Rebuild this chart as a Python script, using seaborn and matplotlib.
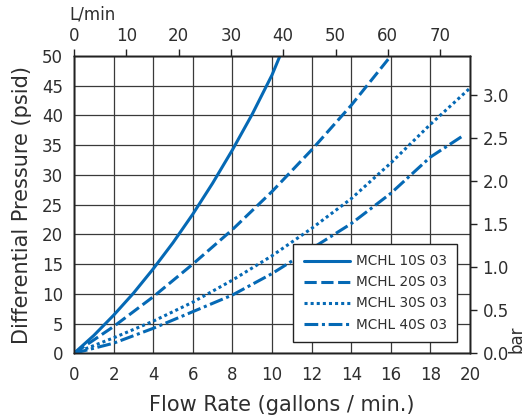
import numpy as np
import matplotlib
matplotlib.use("Agg")
import matplotlib.pyplot as plt
import pandas as pd
import seaborn as sns

# przeplyw (gpm) i spadek cisnienia (psid)
gpm_10s = [0, 1, 2, 3, 4, 5, 6, 7, 8, 9, 10, 10.4]
psi_10s = [0, 3.0, 6.4, 10.1, 14.2, 18.6, 23.4, 28.6, 34.2, 40.2, 46.8, 50.0]

gpm_20s = [0, 2, 4, 6, 8, 10, 12, 14, 16]
psi_20s = [0, 4.5, 9.5, 15.0, 20.8, 27.2, 34.2, 41.7, 50.0]

gpm_30s = [0, 2, 4, 6, 8, 10, 12, 14, 16, 18, 20]
psi_30s = [0, 2.6, 5.4, 8.6, 12.3, 16.4, 21.0, 26.0, 32.0, 38.5, 44.6]

gpm_40s = [0, 2, 4, 6, 8, 10, 12, 14, 16, 18, 19.7]
psi_40s = [0, 1.7, 4.2, 7.0, 9.8, 13.4, 17.6, 21.8, 26.9, 33.0, 36.7]

names = ["MCHL 10S 03", "MCHL 20S 03", "MCHL 30S 03", "MCHL 40S 03"]

x_ticks = list(range(0, 21, 2))
y_ticks = list(range(0, 51, 5))
lmin_ticks = list(range(0, 71, 10))
bar_ticks = [0.0, 0.5, 1.0, 1.5, 2.0, 2.5, 3.0]

GPM_TO_LMIN = 3.785411784
PSI_TO_BAR = 1 / 14.5038

df = pd.concat([
    pd.DataFrame({"gpm": gpm_10s, "psi": psi_10s, "model": names[0]}),
    pd.DataFrame({"gpm": gpm_20s, "psi": psi_20s, "model": names[1]}),
    pd.DataFrame({"gpm": gpm_30s, "psi": psi_30s, "model": names[2]}),
    pd.DataFrame({"gpm": gpm_40s, "psi": psi_40s, "model": names[3]}),
], ignore_index=True)

sns.set_theme(style="white")
plt.rcParams["font.family"] = ["DejaVu Sans"]
txt = "#2e2e2e"
blue = "#0569b5"
edge = "#222222"

fig = plt.figure(figsize=(5.26, 4.2), dpi=100)
ax = fig.add_axes([0.1407, 0.1588, 0.8935 - 0.1407, 0.8667 - 0.1588])

dashes = {names[0]: "", names[1]: (4, 1.5), names[2]: (1, 1.0), names[3]: (4.5, 1.2, 1, 1.2)}
sns.lineplot(data=df, x="gpm", y="psi", hue="model", style="model",
             palette=[blue] * 4, dashes=dashes, estimator=None, sort=False,
             linewidth=2.2, legend=False, ax=ax, zorder=3)

ax.set_xlim(0, 20)
ax.set_ylim(0, 50)
ax.set_xticks(x_ticks)
ax.set_yticks(y_ticks)
ax.grid(True, color="#3a3a3a", linewidth=0.9)
ax.set_axisbelow(True)
ax.tick_params(axis="both", length=0, labelsize=12, labelcolor=txt)
ax.tick_params(axis="x", pad=9)
ax.tick_params(axis="y", pad=8)
ax.set_xlabel("Flow Rate (gallons / min.)", fontsize=15, color=txt, labelpad=8)
ax.xaxis.label.set_x(0.525)
ax.set_ylabel("Differential Pressure (psid)", fontsize=15, color=txt, labelpad=7)
for s in ax.spines.values():
    s.set_color(edge)
    s.set_linewidth(1.0)

leg = ax.legend(ax.lines[:4], names, loc="lower right", bbox_to_anchor=(0.968, 0.039),
                fontsize=9.8, frameon=True, fancybox=False, framealpha=1,
                edgecolor=edge, handlelength=3.4, borderpad=0.75,
                labelspacing=0.52, handletextpad=0.45, borderaxespad=0)
leg.get_frame().set_linewidth(1.0)
for t in leg.get_texts():
    t.set_color(txt)

# gorna os w L/min
ax3 = ax.twiny()
ax3.set_xlim(0, 20 * GPM_TO_LMIN)
ax3.set_xticks(lmin_ticks)
ax3.tick_params(axis="x", direction="out", length=5, width=1, color=edge,
                labelsize=12, labelcolor=txt, pad=3)
ax3.set_xlabel("L/min", loc="left", fontsize=12, color=txt, labelpad=5)
ax3.xaxis.label.set_x(-0.012)

# prawa os w bar
ax2 = ax.twinx()
ax2.set_ylim(0, 50 * PSI_TO_BAR)
ax2.set_yticks(bar_ticks)
ax2.set_yticklabels([f"{b:.1f}" for b in bar_ticks])
ax2.tick_params(axis="y", direction="out", length=5, width=1, color=edge,
                labelsize=12, labelcolor=txt, pad=4)
ax2.set_ylabel("bar", loc="bottom", fontsize=12, color=txt)
ax2.yaxis.set_label_coords(1.095, 0)
for a in (ax2, ax3):
    a.grid(False)
    for s in a.spines.values():
        s.set_color(edge)
        s.set_linewidth(1.0)

fig.savefig("out.png", dpi=100)
